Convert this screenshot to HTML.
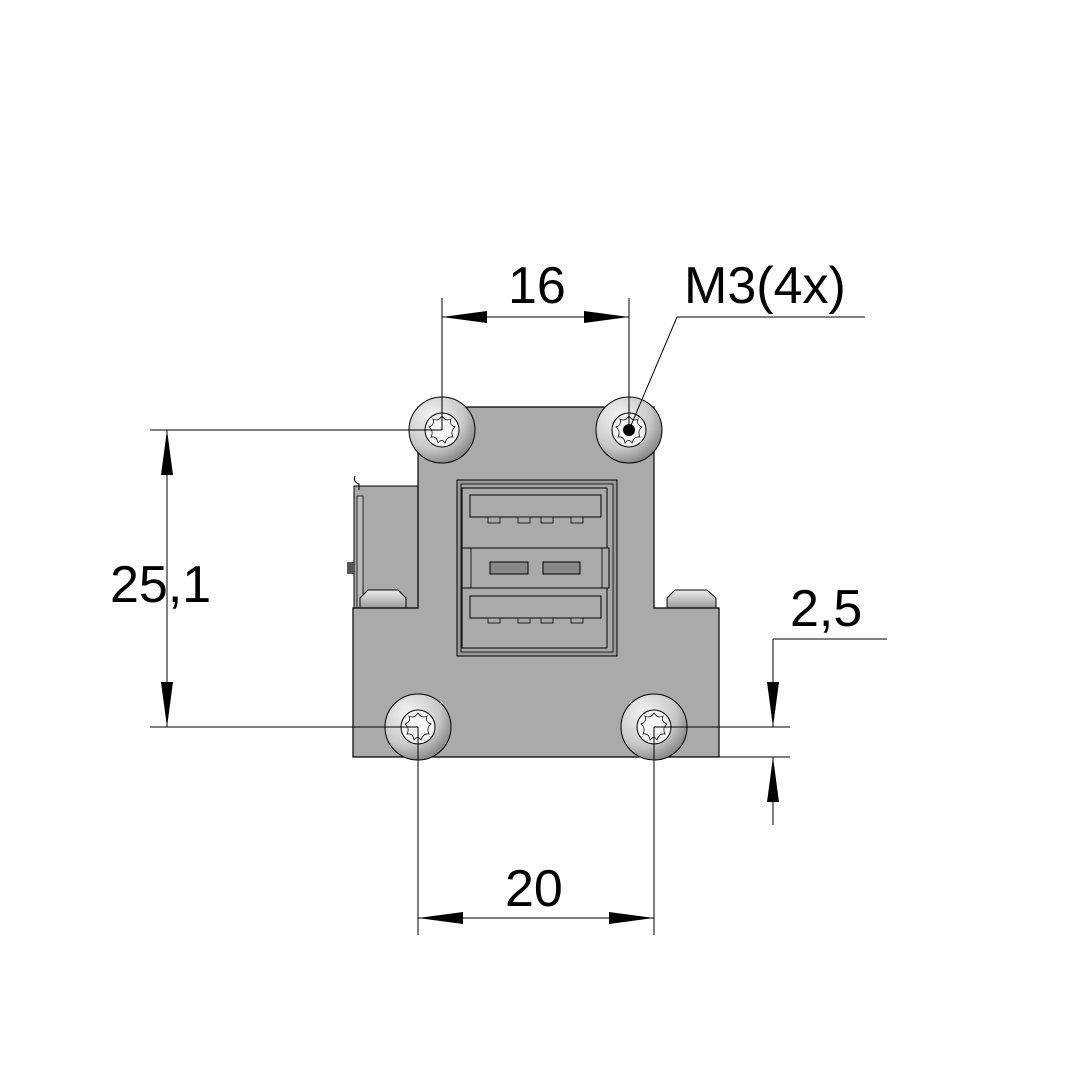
<!DOCTYPE html>
<html><head><style>body{margin:0;background:#fff}svg{display:block}text{font-family:"Liberation Sans",sans-serif;font-size:52px;fill:#000}</style></head><body>
<svg width="1083" height="1083" viewBox="0 0 1083 1083" xmlns="http://www.w3.org/2000/svg">
<defs>
<radialGradient id="sg" cx="0.35" cy="0.3" r="0.8"><stop offset="0" stop-color="#f4f4f4"/><stop offset="0.6" stop-color="#c8c8c8"/><stop offset="1" stop-color="#777"/></radialGradient>
<linearGradient id="sm" x1="0" y1="0" x2="0" y2="1"><stop offset="0" stop-color="#eee"/><stop offset="1" stop-color="#999"/></linearGradient>
<g id="torx"><circle r="17" fill="#f2f2f2" stroke="#000"/><path d="M0,-14 Q4,-8 9,-11 Q7,-5 13,-3 Q8,1 11,7 Q5,6 3,13 Q0,8 -4,13 Q-5,6 -11,7 Q-8,1 -13,-3 Q-7,-5 -9,-11 Q-4,-8 0,-14Z" fill="#f6f6f6" stroke="#000" stroke-width="0.7"/></g>
</defs>
<rect x="354" y="486" width="64" height="122" fill="#aaa" stroke="#000" stroke-width="1"/>
<rect x="357" y="496" width="6" height="112" fill="#bbb" stroke="#000" stroke-width="0.8"/>
<rect x="347" y="562" width="7" height="12" fill="#555"/>
<path d="M355 476 q-2 6 4 8 v6" fill="none" stroke="#000"/>
<path d="M360 608 v-10 l8 -8 h30 l8 8 v10z" fill="url(#sm)" stroke="#000"/>
<path d="M667 608 v-10 l8 -8 h32 l9 8 v10z" fill="url(#sm)" stroke="#000"/>
<path d="M418 407 H654 V608 H719 V757 H353 V608 H418 Z" fill="#aaa" stroke="#000" stroke-width="1.2"/>
<rect x="457" y="480" width="160" height="176" fill="#999" stroke="#000"/>
<rect x="461" y="484" width="152" height="168" fill="#a8a8a8" stroke="#000" stroke-width="0.8"/>
<rect x="462" y="488" width="145" height="60" fill="#aaa" stroke="#000"/>
<rect x="470" y="495" width="131" height="22" fill="#aaa" stroke="#000"/>
<rect x="462" y="548" width="147" height="40" fill="#aaa" stroke="#000"/>
<rect x="471" y="548" width="131" height="40" fill="none" stroke="#000" stroke-width="0.8"/>
<rect x="490" y="562" width="38" height="12" fill="#888" stroke="#000"/>
<rect x="543" y="562" width="37" height="12" fill="#888" stroke="#000"/>
<rect x="462" y="588" width="145" height="60" fill="#aaa" stroke="#000"/>
<rect x="470" y="596" width="131" height="22" fill="#aaa" stroke="#000"/>
<g fill="#aaa" stroke="#000" stroke-width="0.8">
<rect x="488" y="517" width="12" height="6"/><rect x="518" y="517" width="12" height="6"/><rect x="541" y="517" width="12" height="6"/><rect x="571" y="517" width="12" height="6"/>
<rect x="488" y="618" width="12" height="5"/><rect x="518" y="618" width="12" height="5"/><rect x="541" y="618" width="12" height="5"/><rect x="571" y="618" width="12" height="5"/>
</g>
<g stroke="#000" stroke-width="1">
<circle cx="442" cy="430" r="33" fill="url(#sg)"/>
<circle cx="629" cy="430" r="33" fill="url(#sg)"/>
<circle cx="418" cy="727" r="33" fill="url(#sg)"/>
<circle cx="654" cy="727" r="33" fill="url(#sg)"/>
</g>
<use href="#torx" x="442" y="430"/><use href="#torx" x="629" y="430"/><use href="#torx" x="418" y="727"/><use href="#torx" x="654" y="727"/>
<circle cx="629" cy="430" r="6" fill="#000"/>
<g stroke="#000" stroke-width="1" fill="none">
<line x1="442" y1="298" x2="442" y2="430"/><line x1="629" y1="298" x2="629" y2="430"/>
<line x1="442" y1="317" x2="629" y2="317"/>
<line x1="150" y1="430" x2="442" y2="430"/><line x1="150" y1="727" x2="418" y2="727"/>
<line x1="167" y1="430" x2="167" y2="727"/>
<line x1="418" y1="727" x2="418" y2="935"/><line x1="654" y1="727" x2="654" y2="935"/>
<line x1="418" y1="918" x2="654" y2="918"/>
<line x1="654" y1="727" x2="790" y2="727"/><line x1="718" y1="757" x2="790" y2="757"/>
<line x1="773" y1="639" x2="887" y2="639"/><line x1="773" y1="639" x2="773" y2="727"/><line x1="773" y1="757" x2="773" y2="825"/>
<polyline points="629,430 677,317 865,317"/>
</g>
<g fill="#000">
<polygon points="442,317 487,311 487,323"/><polygon points="629,317 584,311 584,323"/>
<polygon points="167,430 161,475 173,475"/><polygon points="167,727 161,682 173,682"/>
<polygon points="418,918 463,912 463,924"/><polygon points="654,918 609,912 609,924"/>
<polygon points="773,727 767,682 779,682"/><polygon points="773,757 767,802 779,802"/>
</g>
<text x="508" y="303">16</text>
<text x="684" y="303">M3(4x)</text>
<text x="110" y="602">25,1</text>
<text x="505" y="906">20</text>
<text x="790" y="626">2,5</text>
</svg>
</body></html>
